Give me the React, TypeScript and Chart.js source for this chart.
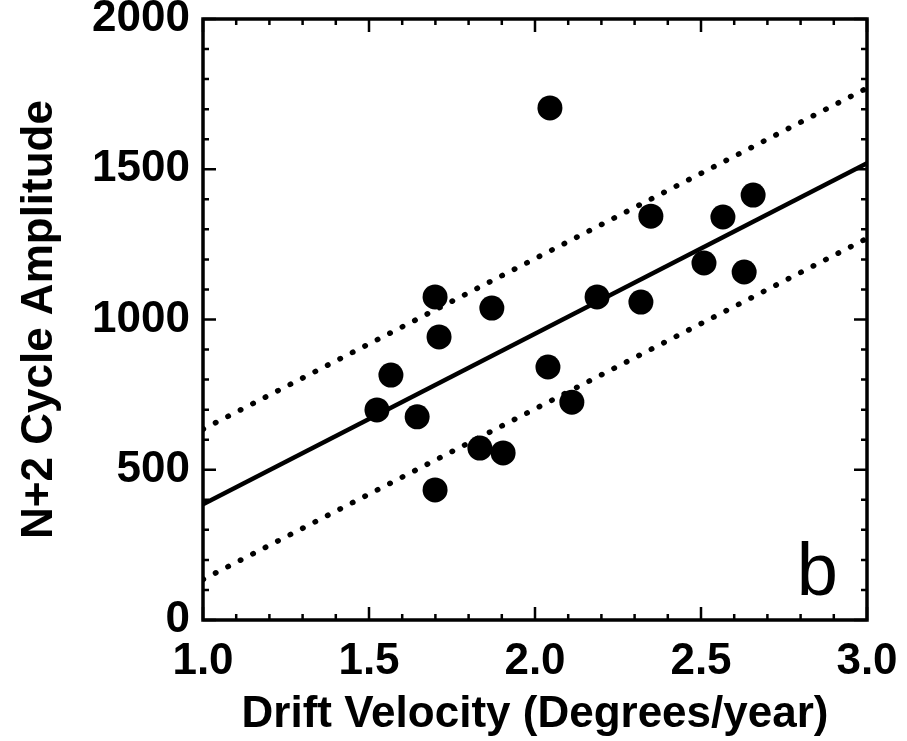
import React, { useEffect, useRef } from 'react';
import { Chart, registerables } from 'chart.js';

Chart.register(...registerables);

// Drift velocity (degrees/year) vs N+2 cycle amplitude
const driftVelocity = [1.524, 1.566, 1.645, 1.699, 1.711, 1.699, 1.834, 1.904, 1.870, 2.045, 2.039, 2.111, 2.187, 2.319, 2.349, 2.509, 2.566, 2.630, 2.657];
const amplitude = [699, 815, 676, 1075, 942, 433, 572, 556, 1038, 1704, 842, 725, 1075, 1058, 1344, 1188, 1341, 1158, 1414];

// Regression line and its bounds
const fitX = [1.0, 3.0];
const fitY = [385, 1520];
const upperY = [635, 1770];
const lowerY = [135, 1270];

const xMin = 1.0;
const xMax = 3.0;
const yMin = 0;
const yMax = 2000;
const xMajorStep = 0.5;
const xMinorStep = 0.1;
const yMajorStep = 500;
const yMinorStep = 100;
const panelLabel = 'b';

const FONT = '"Liberation Sans", Arial, Helvetica, sans-serif';

const framePlugin = {
  id: 'frame',
  afterDatasetsDraw(chart: any) {
    const { ctx, chartArea, scales } = chart;
    const { left, right, top, bottom } = chartArea;
    const x = scales.x;
    const y = scales.y;
    ctx.save();
    ctx.strokeStyle = '#000';
    ctx.lineWidth = 2.5;
    ctx.lineCap = 'butt';
    const nx = Math.round((xMax - xMin) / xMinorStep);
    const ratioX = Math.round(xMajorStep / xMinorStep);
    for (let i = 0; i <= nx; i++) {
      const v = xMin + i * xMinorStep;
      const px = x.getPixelForValue(v);
      const len = i % ratioX === 0 ? 13 : 6;
      ctx.beginPath();
      ctx.moveTo(px, bottom);
      ctx.lineTo(px, bottom - len);
      ctx.moveTo(px, top);
      ctx.lineTo(px, top + len);
      ctx.stroke();
    }
    const ny = Math.round((yMax - yMin) / yMinorStep);
    const ratioY = Math.round(yMajorStep / yMinorStep);
    for (let i = 0; i <= ny; i++) {
      const v = yMin + i * yMinorStep;
      const py = y.getPixelForValue(v);
      const len = i % ratioY === 0 ? 13 : 6;
      ctx.beginPath();
      ctx.moveTo(left, py);
      ctx.lineTo(left + len, py);
      ctx.moveTo(right, py);
      ctx.lineTo(right - len, py);
      ctx.stroke();
    }
    ctx.lineWidth = 3.5;
    ctx.strokeRect(left, top, right - left, bottom - top);

    ctx.fillStyle = '#000';
    ctx.font = `74px ${FONT}`;
    ctx.textAlign = 'right';
    ctx.textBaseline = 'alphabetic';
    ctx.fillText(panelLabel, right - 29, bottom - 25);
    ctx.restore();
  },
};

export default function App() {
  const canvasRef = useRef<HTMLCanvasElement | null>(null);

  useEffect(() => {
    const canvas = canvasRef.current;
    if (!canvas) return;
    const chart = new Chart(canvas, {
      type: 'scatter',
      data: {
        datasets: [
          {
            type: 'scatter',
            label: 'Cycles',
            data: driftVelocity.map((v, i) => ({ x: v, y: amplitude[i] })),
            backgroundColor: '#000',
            borderColor: '#000',
            pointRadius: 12.5,
            pointHoverRadius: 12.5,
            borderWidth: 0,
            order: 0,
          },
          {
            type: 'line',
            label: 'Fit',
            data: fitX.map((v, i) => ({ x: v, y: fitY[i] })),
            borderColor: '#000',
            borderWidth: 4.5,
            pointRadius: 0,
            fill: false,
            order: 1,
          },
          {
            type: 'line',
            label: 'Upper',
            data: fitX.map((v, i) => ({ x: v, y: upperY[i] })),
            borderColor: '#000',
            borderWidth: 5.5,
            borderDash: [0.5, 13.5],
            borderCapStyle: 'round',
            pointRadius: 0,
            fill: false,
            order: 1,
          },
          {
            type: 'line',
            label: 'Lower',
            data: fitX.map((v, i) => ({ x: v, y: lowerY[i] })),
            borderColor: '#000',
            borderWidth: 5.5,
            borderDash: [0.5, 13.5],
            borderCapStyle: 'round',
            pointRadius: 0,
            fill: false,
            order: 1,
          },
        ] as any,
      },
      options: {
        animation: false,
        responsive: true,
        maintainAspectRatio: false,
        layout: { padding: { left: 0, right: 40, top: 19, bottom: 0 } },
        plugins: {
          legend: { display: false },
          tooltip: { enabled: false },
        },
        scales: {
          x: {
            type: 'linear',
            min: xMin,
            max: xMax,
            grid: { display: false, drawTicks: false },
            border: { display: false },
            ticks: {
              stepSize: xMajorStep,
              padding: 15,
              color: '#000',
              font: { family: FONT, size: 44, weight: 'bold' },
              callback: (v: any) => Number(v).toFixed(1),
              maxRotation: 0,
              autoSkip: false,
            },
            title: {
              display: true,
              text: 'Drift Velocity (Degrees/year)',
              color: '#000',
              font: { family: FONT, size: 44, weight: 'bold', lineHeight: 1.2 },
              padding: 0,
            },
            afterFit: (scale: any) => {
              scale.height = 121;
              scale.paddingLeft = 0;
              scale.paddingRight = 0;
            },
          },
          y: {
            type: 'linear',
            min: yMin,
            max: yMax,
            grid: { display: false, drawTicks: false },
            border: { display: false },
            ticks: {
              stepSize: yMajorStep,
              padding: 13,
              color: '#000',
              font: { family: FONT, size: 44, weight: 'bold' },
              callback: (v: any) => String(Math.round(Number(v))),
            },
            title: {
              display: true,
              text: 'N+2 Cycle Amplitude',
              color: '#000',
              font: { family: FONT, size: 44, weight: 'bold', lineHeight: 1.8 },
              padding: 0,
            },
            afterFit: (scale: any) => {
              scale.width = 203;
              scale.paddingTop = 0;
              scale.paddingBottom = 0;
            },
          },
        },
      } as any,
      plugins: [framePlugin],
    });
    return () => chart.destroy();
  }, []);

  return (
    <div style={{ position: 'absolute', left: 0, top: 0, width: 907, height: 741, background: '#fff' }}>
      <canvas ref={canvasRef} />
    </div>
  );
}
